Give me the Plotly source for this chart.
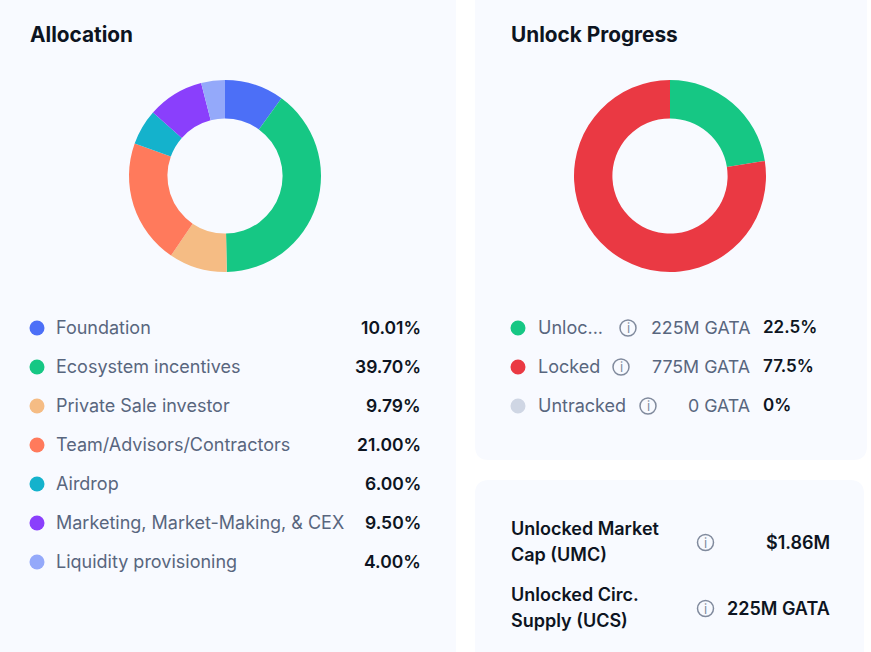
import plotly.graph_objects as go

alloc_labels = ["Foundation", "Ecosystem incentives", "Private Sale investor", "Team/Advisors/Contractors",
                "Airdrop", "Marketing, Market-Making, & CEX", "Liquidity provisioning"]
alloc_values = [10.01, 39.70, 9.79, 21.00, 6.00, 9.50, 4.00]
alloc_text = ["10.01%", "39.70%", "9.79%", "21.00%", "6.00%", "9.50%", "4.00%"]
alloc_colors = ["#4C6FF7", "#16C784", "#F5BC84", "#FF7A5C", "#14B2CC", "#8A3FFC", "#94A9FA"]

unlock_labels = ["Unloc...", "Locked", "Untracked"]
unlock_full = ["Unlocked", "Locked", "Untracked"]
unlock_values = [22.5, 77.5, 0]
unlock_amount = ["225M GATA", "775M GATA", "0 GATA"]
unlock_text = ["22.5%", "77.5%", "0%"]
unlock_colors = ["#16C784", "#EA3943", "#CFD6E4"]
unlock_icon_x = [628, 621, 648]

W, H = 871, 652
FONT = "Inter"
DARK = "#0D1421"
GREY = "#58667E"
PANEL = "#F8FAFF"
ICON = "#808A9D"
LABEL_SIZE = 18

fig = go.Figure()


def dom(x0, x1, y0, y1):
    return dict(x=[x0 / W, x1 / W], y=[1 - y1 / H, 1 - y0 / H])


fig.add_trace(go.Pie(labels=alloc_labels, values=alloc_values, marker=dict(colors=alloc_colors, line=dict(width=0)),
                     hole=0.6, sort=False, direction="clockwise", rotation=0, textinfo="none", showlegend=False,
                     domain=dom(129, 321, 80, 272)))
fig.add_trace(go.Pie(labels=unlock_full, values=unlock_values, marker=dict(colors=unlock_colors, line=dict(width=0)),
                     hole=0.6, sort=False, direction="clockwise", rotation=0, textinfo="none", showlegend=False,
                     domain=dom(574, 766, 80, 272)))

shapes = []
ann = []


def rrect(x0, y0, x1, y1, r=14):
    return (f"M{x0+r},{y0} L{x1-r},{y0} Q{x1},{y0} {x1},{y0+r} L{x1},{y1-r} Q{x1},{y1} {x1-r},{y1} "
            f"L{x0+r},{y1} Q{x0},{y1} {x0},{y1-r} L{x0},{y0+r} Q{x0},{y0} {x0+r},{y0} Z")


for p in [(-30, -30, 456, 690), (475, -30, 867, 460), (475, 480, 864, 690)]:
    shapes.append(dict(type="path", path=rrect(*p), xref="x", yref="y", fillcolor=PANEL, line=dict(width=0), layer="below"))


def dot(cx, cy, color, r=7.5):
    shapes.append(dict(type="circle", xref="x", yref="y", x0=cx - r, x1=cx + r, y0=cy - r, y1=cy + r,
                       fillcolor=color, line=dict(width=0), layer="below"))


def text(x, y, s, size=LABEL_SIZE, color=GREY, weight=400, anchor="left"):
    ann.append(dict(x=x, y=y, xref="x", yref="y", text=s, showarrow=False, xanchor=anchor, yanchor="middle",
                    font=dict(family=FONT, size=size, color=color, weight=weight), borderpad=0, borderwidth=0))


def icon(cx, cy, r=8):
    shapes.append(dict(type="circle", xref="x", yref="y", x0=cx - r, x1=cx + r, y0=cy - r, y1=cy + r,
                       fillcolor="rgba(0,0,0,0)", line=dict(width=1.5, color=ICON), layer="above"))
    text(cx, cy, "i", size=13, color=ICON, anchor="center")


text(29.5, 34.5, "Allocation", size=20.8, color=DARK, weight=700)
text(510.5, 34.5, "Unlock Progress", size=20.8, color=DARK, weight=700)

ys = [328, 367, 406, 445, 484, 523, 562]
for y, lab, t, c in zip(ys, alloc_labels, alloc_text, alloc_colors):
    dot(37, y, c)
    text(56, y - 0.8, lab)
    text(420.5, y - 0.8, t, size=17.5, color=DARK, weight=600, anchor="right")

for y, lab, a, t, c, ix in zip(ys, unlock_labels, unlock_amount, unlock_text, unlock_colors, unlock_icon_x):
    dot(518, y, c)
    text(538, y - 0.8, lab)
    icon(ix, y)
    text(750, y - 0.8, a, size=17.8, anchor="right")
    text(763, y - 0.8, t, size=17, color=DARK, weight=600)

text(511, 528.2, "Unlocked Market", color=DARK, weight=600)
text(511, 554.5, "Cap (UMC)", color=DARK, weight=600)
icon(705.5, 542.5)
text(830, 542.2, "$1.86M", color=DARK, weight=600, anchor="right")
text(511, 594.2, "Unlocked Circ.", color=DARK, weight=600)
text(511, 620.5, "Supply (UCS)", color=DARK, weight=600)
icon(705.5, 608.5)
text(830, 608.2, "225M GATA", color=DARK, weight=600, anchor="right")

axis = dict(visible=False, fixedrange=True)
fig.update_layout(width=W, height=H, autosize=False, margin=dict(l=0, r=0, t=0, b=0),
                  paper_bgcolor="#FFFFFF", plot_bgcolor="rgba(0,0,0,0)",
                  xaxis=dict(range=[0, W], domain=[0, 1], **axis),
                  yaxis=dict(range=[H, 0], domain=[0, 1], **axis),
                  shapes=shapes, annotations=ann, showlegend=False, font=dict(family=FONT))
fig.write_html("out.html", config=dict(displayModeBar=False),
               post_script="document.body.style.margin='0';")
